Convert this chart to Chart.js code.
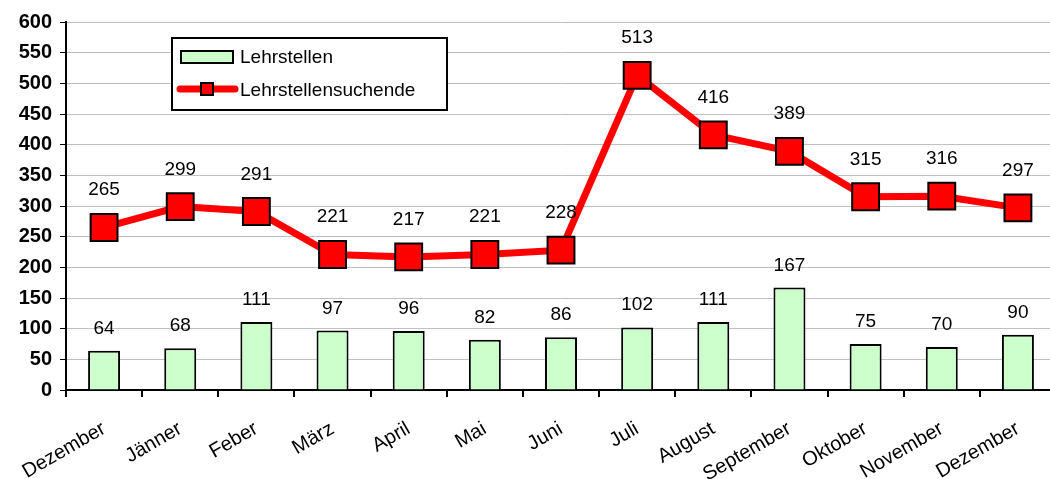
<!DOCTYPE html>
<html>
<head>
<meta charset="utf-8">
<title>Lehrstellen</title>
<script src="https://cdn.jsdelivr.net/npm/chart.js@4/dist/chart.umd.min.js"></script>
<style>
  html, body { margin: 0; padding: 0; background: #fff; overflow: hidden; }
  #wrap { width: 1077px; height: 479px; }
</style>
</head>
<body>
<div id="wrap"><canvas id="chart"></canvas></div>
<script>
const months = ['Dezember', 'Jänner', 'Feber', 'März', 'April', 'Mai', 'Juni',
                'Juli', 'August', 'September', 'Oktober', 'November', 'Dezember'];
const lehrstellen = [64, 68, 111, 97, 96, 82, 86, 102, 111, 167, 75, 70, 90];
const suchende = [265, 299, 291, 221, 217, 221, 228, 513, 416, 389, 315, 316, 297];

const FONT = '"Liberation Sans", Arial, sans-serif';

// value labels above bars and points
const valueLabels = {
    id: 'valueLabels',
    afterDatasetsDraw(chart) {
        const ctx = chart.ctx;
        ctx.save();
        ctx.font = '19px ' + FONT;
        ctx.fillStyle = '#000';
        ctx.textAlign = 'center';
        ctx.textBaseline = 'alphabetic';
        chart.data.datasets.forEach((ds, i) => {
            const meta = chart.getDatasetMeta(i);
            meta.data.forEach((el, j) => {
                const off = ds.type === 'line' ? 32 : 17;
                ctx.fillText(String(ds.data[j]), el.x, el.y - off);
            });
        });
        ctx.restore();
    }
};

// legend box drawn inside the plot area
const boxLegend = {
    id: 'boxLegend',
    afterDraw(chart) {
        const ctx = chart.ctx;
        const a = chart.chartArea;
        const x = a.left + 106, y = a.top + 16, w = 275, h = 72;
        ctx.save();
        ctx.fillStyle = '#fff';
        ctx.fillRect(x, y, w, h);
        ctx.lineWidth = 2;
        ctx.strokeStyle = '#000';
        ctx.strokeRect(x, y, w, h);
        // bar entry
        ctx.fillStyle = '#ccffcc';
        ctx.fillRect(x + 9, y + 13, 52, 12);
        ctx.strokeRect(x + 9, y + 13, 52, 12);
        // line entry
        ctx.strokeStyle = '#ff0000';
        ctx.lineWidth = 7;
        ctx.lineCap = 'round';
        ctx.beginPath();
        ctx.moveTo(x + 8, y + 51);
        ctx.lineTo(x + 63, y + 51);
        ctx.stroke();
        ctx.fillStyle = '#ff0000';
        ctx.fillRect(x + 29, y + 45, 12, 12);
        ctx.lineWidth = 2;
        ctx.strokeStyle = '#000';
        ctx.strokeRect(x + 29, y + 45, 12, 12);
        ctx.fillStyle = '#000';
        ctx.font = '19px ' + FONT;
        ctx.textBaseline = 'middle';
        ctx.fillText('Lehrstellen', x + 68, y + 20);
        ctx.fillText('Lehrstellensuchende', x + 68, y + 53);
        ctx.restore();
    }
};

const ctx = document.getElementById('chart').getContext('2d');
new Chart(ctx, {
    data: {
        labels: months,
        datasets: [{
            type: 'line',
            label: 'Lehrstellensuchende',
            data: suchende,
            borderColor: '#ff0000',
            borderWidth: 7,
            pointStyle: 'rect',
            pointRadius: 19,
            pointBackgroundColor: '#ff0000',
            pointBorderColor: '#000',
            pointBorderWidth: 2,
            tension: 0,
            order: 0
        }, {
            type: 'bar',
            label: 'Lehrstellen',
            data: lehrstellen,
            backgroundColor: '#ccffcc',
            borderColor: '#000',
            borderWidth: 2,
            categoryPercentage: 1,
            barPercentage: 0.42,
            order: 1
        }]
    },
    options: {
        responsive: true,
        maintainAspectRatio: false,
        animation: false,
        layout: { padding: { top: 22, right: 0, left: 0, bottom: 0 } },
        plugins: {
            legend: { display: false },
            tooltip: { enabled: false }
        },
        scales: {
            x: {
                offset: true,
                afterFit(scale) { scale.height = 89; },
                grid: {
                    offset: true,
                    drawOnChartArea: false,
                    color: '#000',
                    tickLength: 7,
                    lineWidth: 2
                },
                border: { color: '#000', width: 2 },
                ticks: {
                    color: '#000',
                    font: { family: FONT, size: 20 },
                    minRotation: 30,
                    maxRotation: 30,
                    autoSkip: false,
                    padding: 20
                }
            },
            y: {
                min: 0,
                max: 600,
                afterFit(scale) { scale.width = 66; },
                grid: {
                    color: '#c0c0c0',
                    tickColor: '#000',
                    tickLength: 6,
                    lineWidth: 1
                },
                border: { color: '#000', width: 2 },
                ticks: {
                    stepSize: 50,
                    color: '#000',
                    font: { family: FONT, size: 20, weight: 'bold' },
                    padding: 8
                }
            }
        }
    },
    plugins: [valueLabels, boxLegend]
});
</script>
</body>
</html>
